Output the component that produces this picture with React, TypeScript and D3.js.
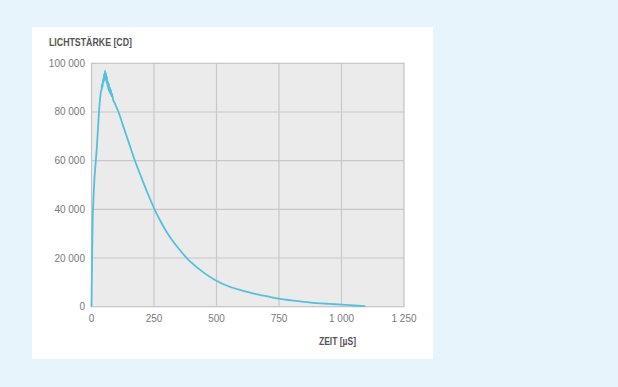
import React from "react";
import * as d3 from "d3";

const timeUs = [0, 1, 2, 3, 4, 5, 7, 9, 12, 15, 18, 21, 24, 27, 30, 33, 36, 38, 40, 42, 44, 46, 48, 50, 52, 54, 56, 58, 60, 62, 64, 66, 68, 70, 72, 74, 76, 78, 80, 82, 86, 92, 100, 108, 125, 150, 172, 200, 225, 250, 275, 300, 325, 350, 381, 400, 450, 494, 550, 600, 650, 700, 754, 800, 850, 900, 950, 1000, 1050, 1095];
const intensityCd = [0, 9000, 17000, 25000, 31000, 37000, 42000, 47000, 53000, 57000, 61000, 65000, 70000, 75000, 80000, 84000, 87000, 88500, 89000, 91500, 90000, 93500, 92000, 95500, 93000, 97000, 94000, 96000, 92000, 94500, 90500, 92500, 89000, 91500, 88000, 90000, 87500, 89000, 86500, 87500, 85200, 83800, 82000, 80000, 74800, 67200, 60500, 53000, 46500, 40500, 35300, 30800, 27000, 23700, 20000, 18100, 13900, 11000, 8300, 6700, 5400, 4300, 3200, 2600, 2000, 1500, 1150, 850, 500, 200];

const xTicks = [0, 250, 500, 750, 1000, 1250];
const yTicks = [0, 20000, 40000, 60000, 80000, 100000];
const titleY = "LICHTSTÄRKE [CD]";
const titleX = "ZEIT [µS]";

const fmt = (v: number) => d3.format(",")(v).replace(/,/g, " ");

export default function App() {
  const W = 618, H = 387;
  const left = 91.5, right = 404, top = 63.3, bottom = 306.7;
  const x = d3.scaleLinear().domain([0, 1250]).range([left, right]);
  const y = d3.scaleLinear().domain([0, 100000]).range([bottom, top]);
  const line = d3.line<number>().x((_, i) => x(timeUs[i])).y((d) => y(d)).curve(d3.curveMonotoneX);
  const sans = "'Liberation Sans', Arial, sans-serif";
  return (
    <svg width={W} height={H} style={{ position: "absolute", left: 0, top: 0 }}>
      <rect x={0} y={0} width={W} height={H} fill="#e8f4fc" />
      <rect x={32} y={27} width={401} height={332} fill="#ffffff" />
      <text x={49} y={46} fontFamily={sans} fontWeight="bold" fontSize={10.7} fill="#555" textLength={83} lengthAdjust="spacingAndGlyphs">{titleY}</text>
      <rect x={left} y={top} width={right - left} height={bottom - top} fill="#ebebeb" />
      {xTicks.slice(1, -1).map((t) => (
        <line key={"gx" + t} x1={x(t)} x2={x(t)} y1={top} y2={bottom} stroke="#c8c8c8" strokeWidth={1.2} />
      ))}
      {yTicks.slice(1, -1).map((t) => (
        <line key={"gy" + t} x1={left} x2={right} y1={y(t)} y2={y(t)} stroke="#c8c8c8" strokeWidth={1.2} />
      ))}
      <rect x={left} y={top} width={right - left} height={bottom - top} fill="none" stroke="#c4c4c4" strokeWidth={1.2} />
      <path d={line(intensityCd) || ""} fill="none" stroke="#52c0de" strokeWidth={1.8} strokeLinejoin="round" />
      {yTicks.map((t) => (
        <text key={"ty" + t} x={85} y={y(t)} dy="0.35em" textAnchor="end" fontFamily={sans} fontSize={10} fill="#7a7a7a">{fmt(t)}</text>
      ))}
      {xTicks.map((t) => (
        <text key={"tx" + t} x={x(t)} y={322} textAnchor="middle" fontFamily={sans} fontSize={10} fill="#7a7a7a">{fmt(t)}</text>
      ))}
      <text x={356} y={345} textAnchor="end" fontFamily={sans} fontWeight="bold" fontSize={10.5} fill="#555" textLength={37} lengthAdjust="spacingAndGlyphs">{titleX}</text>
    </svg>
  );
}
